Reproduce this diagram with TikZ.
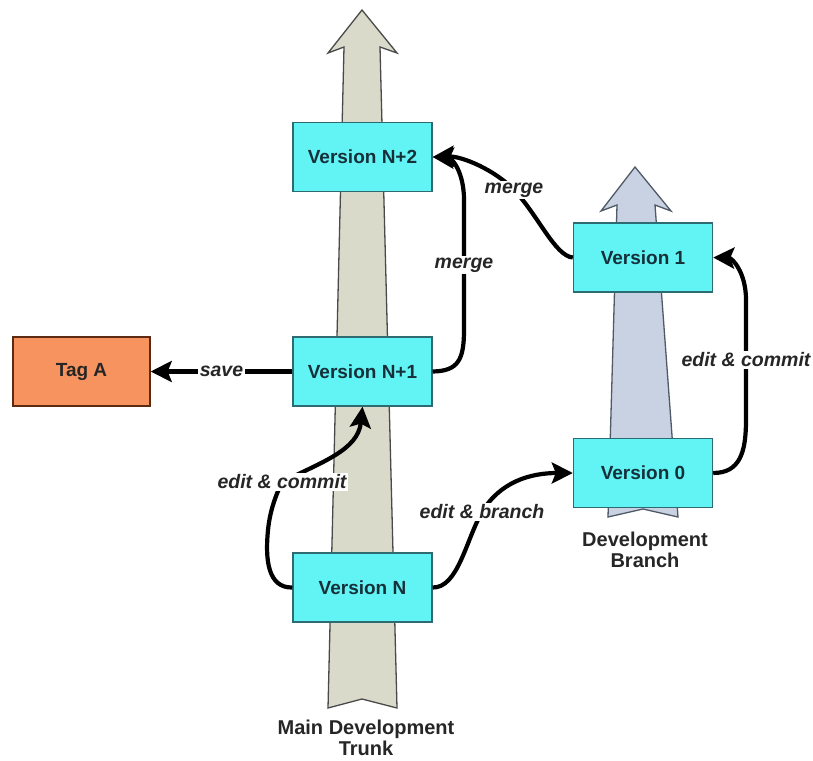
\documentclass[tikz,border=0pt]{standalone}
\usepackage{fontspec}
\setmainfont{Liberation Sans}
\usetikzlibrary{arrows.meta}
\definecolor{boxfill}{HTML}{62F4F4}
\definecolor{boxline}{HTML}{2E6A72}
\definecolor{boxtext}{HTML}{16303A}
\definecolor{tagfill}{HTML}{F7935F}
\definecolor{tagline}{HTML}{5C2A12}
\definecolor{trunkfill}{HTML}{DADACB}
\definecolor{trunkline}{HTML}{4A4A4A}
\definecolor{branchfill}{HTML}{C9D2E2}
\definecolor{branchline}{HTML}{505A66}
\definecolor{labtext}{HTML}{262626}
\tikzset{
  version/.style={draw=boxline, line width=1.4pt, fill=boxfill, text=boxtext,
    minimum width=139pt, minimum height=69pt, inner sep=0pt,
    font=\fontsize{19}{22}\selectfont\bfseries},
  tagbox/.style={version, draw=tagline, fill=tagfill, text=labtext},
  conn/.style={line width=4.2pt, -{Stealth[length=21pt,width=21pt,inset=4pt]}},
  lab/.style={fill=white, inner sep=2pt, text=labtext,
    font=\fontsize{19.5}{22}\selectfont\bfseries\itshape},
  caption/.style={align=center, text=labtext,
    font=\fontsize{20}{23}\selectfont\bfseries},
  bigarrow/.style={line width=1.3pt, line join=miter}
}
\begin{document}
\begin{tikzpicture}[x=1pt, y=-1pt]
\path[use as bounding box, fill=white] (0,0) rectangle (813,760);

% trunk and branch arrows
\draw[bigarrow, draw=trunkline, fill=trunkfill]
  (362,10) -- (397,53) -- (380,47) -- (397,708) -- (362,699) -- (328,708)
  -- (344,47) -- (328,53) -- cycle;
\draw[bigarrow, draw=branchline, fill=branchfill]
  (635,167) -- (671,211) -- (655,205) -- (678,517) -- (643,509) -- (608,517)
  -- (617,205) -- (601,211) -- cycle;

% versions
\node[version] (vN2) at (362.5,157) {Version N+2};
\node[version] (vN1) at (362.5,371.5) {Version N+1};
\node[version] (vN)  at (362.5,587.5) {Version N};
\node[version] (v1)  at (643,257.5) {Version 1};
\node[version] (v0)  at (643,473) {Version 0};
\node[tagbox, minimum width=137pt] (tagA) at (81.5,371.5) {Tag A};

% captions
\node[caption] (trunkcap) at (366,738) {Main Development\\[-2pt]Trunk};
\node[caption] (branchcap) at (645,550) {Development\\[-2pt]Branch};

% connectors
\draw[conn] (vN1.west) -- node[lab] {save} (tagA.east);
\draw[conn] (vN1.east) .. controls (458,371) and (464,360) .. (464,330)
  -- node[lab] {merge} (464,200) .. controls (464,172) and (452,158) .. (vN2.east);
\draw[conn] (v1.west) .. controls (555,256) and (538,215) .. (514,190)
  node[lab] {merge} .. controls (495,170) and (462,156) .. (vN2.east);
\draw[conn] (vN.west) .. controls (268,588) and (265,560) .. (268,530)
  .. controls (270,510) and (276,495) .. (282,482) node[lab] {edit \& commit}
  .. controls (322,462) and (358,450) .. (vN1.south);
\draw[conn] (vN.east) .. controls (458,588) and (466,540) .. (482,512)
  node[lab] {edit \& branch} .. controls (500,482) and (530,473) .. (v0.west);
\draw[conn] (v0.east) .. controls (740,473) and (746,452) .. (746,420)
  -- node[lab] {edit \& commit} (746,300) .. controls (746,272) and (732,258) .. (v1.east);
\end{tikzpicture}
\end{document}
